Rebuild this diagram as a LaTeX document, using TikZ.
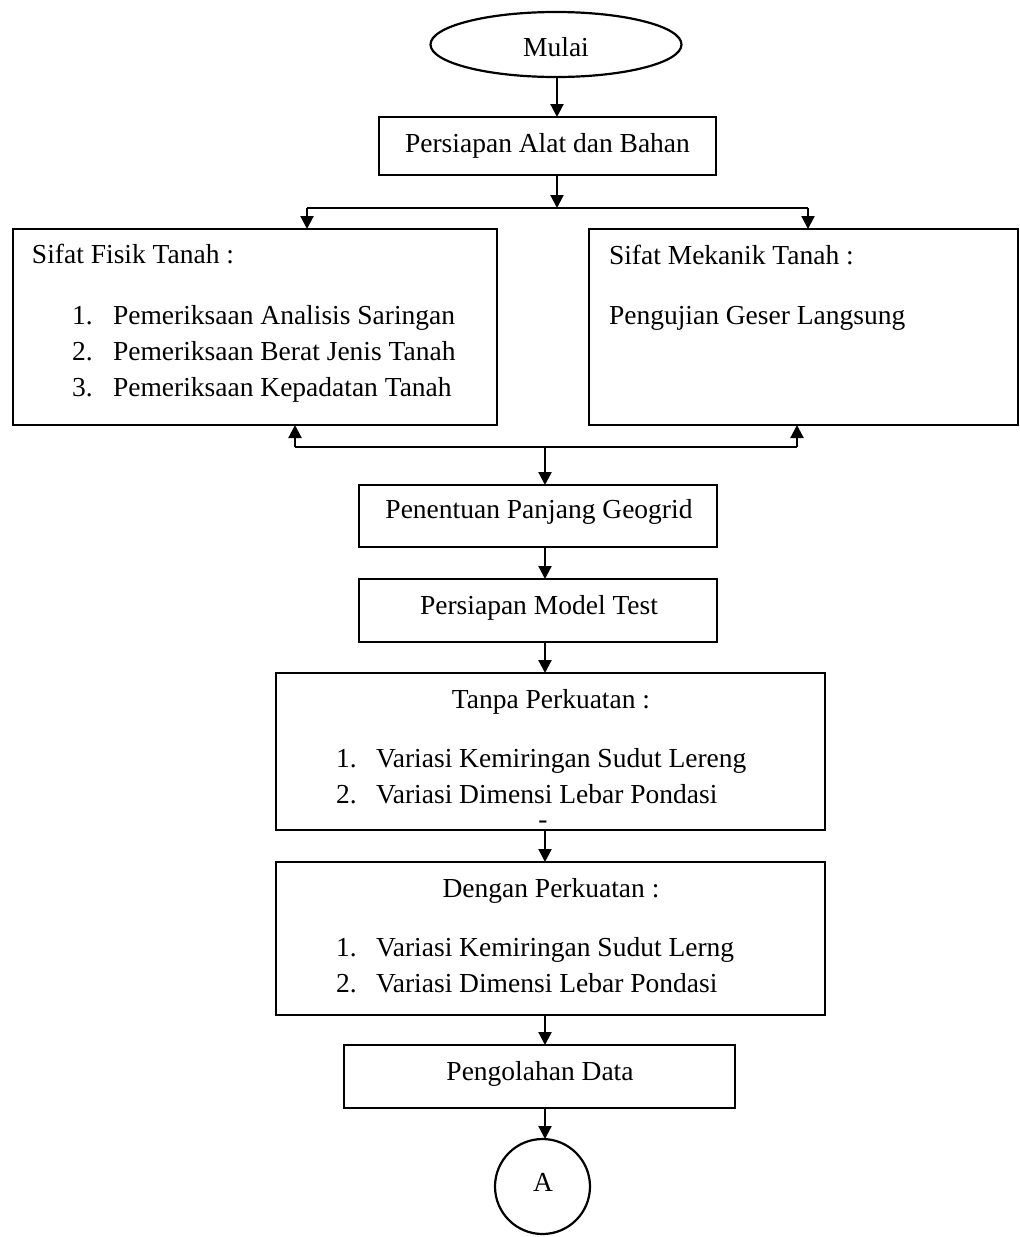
\documentclass[tikz,border=0pt]{standalone}
\usepackage{fontspec}
\setmainfont{Liberation Serif}
\usetikzlibrary{shapes.geometric,arrows.meta}
\begin{document}
\begin{tikzpicture}[x=0.5pt,y=-0.5pt,
  every node/.style={font=\fontsize{13.75pt}{18pt}\selectfont},
  boxst/.style={draw, rectangle, line width=1.1pt, inner sep=0pt, outer sep=0pt},
  txt/.style={inner sep=0pt, outer sep=0pt},
  conn/.style={line width=1.1pt},
  arr/.style={line width=1.1pt, -{Triangle[length=6.5pt,width=6.5pt]}}
]
\useasboundingbox (0,0) rectangle (1020,1237);

% shapes
\node[boxst, ellipse, minimum width=125.5pt, minimum height=32.5pt] (mulai) at (556,44.5) {};
\node[boxst, minimum width=168.5pt, minimum height=29pt] (persiapan) at (547.5,146) {};
\node[boxst, minimum width=242pt, minimum height=98pt] (fisik) at (255,327) {};
\node[boxst, minimum width=214.5pt, minimum height=98pt] (mekanik) at (803.5,327) {};
\node[boxst, minimum width=179pt, minimum height=31pt] (penentuan) at (538,516) {};
\node[boxst, minimum width=179pt, minimum height=31.5pt] (model) at (538,610.5) {};
\node[boxst, minimum width=274.5pt, minimum height=78.5pt] (tanpa) at (550.5,751.5) {};
\node[boxst, minimum width=274.5pt, minimum height=76.5pt] (dengan) at (550.5,938.5) {};
\node[boxst, minimum width=195.5pt, minimum height=31.5pt] (olah) at (539.5,1076.5) {};
\node[boxst, circle, minimum size=47.5pt] (cA) at (542.5,1186.5) {};

% texts
\node[txt, anchor=base] (tmulai) at (556,56) {Mulai};
\node[txt, anchor=base] (tpers) at (547.5,152) {Persiapan Alat dan Bahan};
\node[txt, anchor=base west] (tfisik) at (32,263) {Sifat Fisik Tanah :};
\node[txt, anchor=base west] (nf1) at (72,324) {1.};
\node[txt, anchor=base west] (tf1) at (113,324) {Pemeriksaan Analisis Saringan};
\node[txt, anchor=base west] (nf2) at (72,360) {2.};
\node[txt, anchor=base west] (tf2) at (113,360) {Pemeriksaan Berat Jenis Tanah};
\node[txt, anchor=base west] (nf3) at (72,396) {3.};
\node[txt, anchor=base west] (tf3) at (113,396) {Pemeriksaan Kepadatan Tanah};
\node[txt, anchor=base west] (tmek) at (609,264) {Sifat Mekanik Tanah :};
\node[txt, anchor=base west] (tmek1) at (609,324) {Pengujian Geser Langsung};
\node[txt, anchor=base] (tpen) at (539,518) {Penentuan Panjang Geogrid};
\node[txt, anchor=base] (tmod) at (539,614) {Persiapan Model Test};
\node[txt, anchor=base] (ttanpa) at (551,708) {Tanpa Perkuatan :};
\node[txt, anchor=base west] (nt1) at (336,767) {1.};
\node[txt, anchor=base west] (tt1) at (376,767) {Variasi Kemiringan Sudut Lereng};
\node[txt, anchor=base west] (nt2) at (336,803) {2.};
\node[txt, anchor=base west] (tt2) at (376,803) {Variasi Dimensi Lebar Pondasi};
\node[txt, anchor=base] (tdash) at (543,828) {-};
\node[txt, anchor=base] (tdeng) at (551,897) {Dengan Perkuatan :};
\node[txt, anchor=base west] (nd1) at (336,956) {1.};
\node[txt, anchor=base west] (td1) at (376,956) {Variasi Kemiringan Sudut Lerng};
\node[txt, anchor=base west] (nd2) at (336,992) {2.};
\node[txt, anchor=base west] (td2) at (376,992) {Variasi Dimensi Lebar Pondasi};
\node[txt, anchor=base] (tolah) at (540,1080) {Pengolahan Data};
\node[txt, anchor=base] (tA) at (543,1191) {A};

% junction coordinates
\coordinate (jtop) at (557,208);
\coordinate (jtl) at (307,208);
\coordinate (jtr) at (808,208);
\coordinate (jbl) at (295,447);
\coordinate (jbr) at (797,447);
\coordinate (jbm) at (545,447);
\coordinate (xa) at (545,0);

% connectors
\draw[arr] (mulai.south -| jtop) -- (persiapan.north -| jtop);
\draw[arr] (persiapan.south -| jtop) -- (jtop);
\draw[conn] (jtl) -- (jtr);
\draw[arr] (jtl) -- (fisik.north -| jtl);
\draw[arr] (jtr) -- (mekanik.north -| jtr);
\draw[conn] (jbl) -- (jbr);
\draw[arr] (jbl) -- (fisik.south -| jbl);
\draw[arr] (jbr) -- (mekanik.south -| jbr);
\draw[arr] (jbm) -- (penentuan.north -| jbm);
\draw[arr] (penentuan.south -| xa) -- (model.north -| xa);
\draw[arr] (model.south -| xa) -- (tanpa.north -| xa);
\draw[arr] (tanpa.south -| xa) -- (dengan.north -| xa);
\draw[arr] (dengan.south -| xa) -- (olah.north -| xa);
\draw[arr] (olah.south -| xa) -- (cA.north -| xa);
\end{tikzpicture}
\end{document}
